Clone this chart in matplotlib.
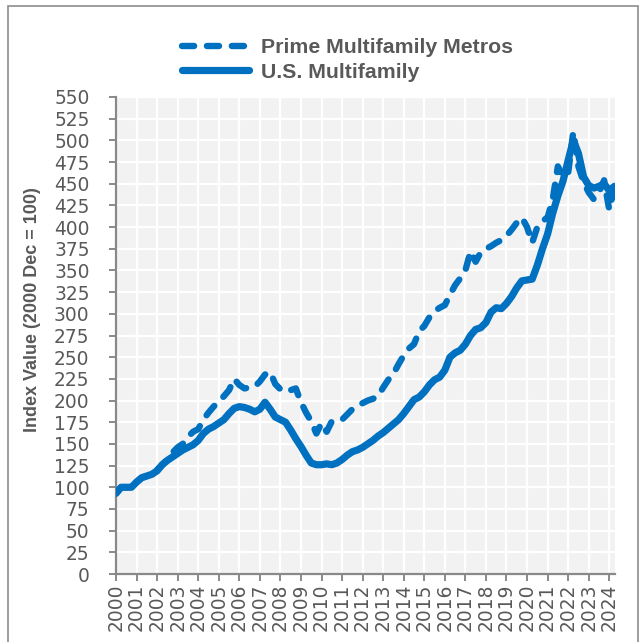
import numpy as np
import matplotlib
matplotlib.use("Agg")
import matplotlib.pyplot as plt
from matplotlib.patches import Rectangle

# ---- data (quarterly, 2000 Q1 .. 2024 Q2) ----
start_year = 2000.0
prime_metros = [
    93, 100, 100, 100, 106, 111, 113, 115,          # 2000-2001
    120, 126, 132, 140, 146, 150, 158, 164,         # 2002-2003
    167, 178, 186, 193, 199, 205, 212, 225,         # 2004-2005
    218, 214, 215, 216, 222, 230, 233, 219,         # 2006-2007
    213, 210, 212, 214, 198, 186, 176, 162,         # 2008-2009
    174, 164, 176, 177, 178, 184, 190, 194,         # 2010-2011
    197, 200, 202, 205, 215, 224, 231, 242,         # 2012-2013
    252, 260, 265, 280, 286, 296, 303, 307,         # 2014-2015
    310, 322, 333, 341, 350, 372, 360, 371,         # 2016-2017
    375, 378, 382, 385, 390, 397, 405, 411,         # 2018-2019
    400, 382, 400, 407, 411, 432, 470, 458,         # 2020-2021
    462, 510, 470, 452, 440, 432, 440, 454,         # 2022-2023
    420, 445,                                       # 2024
]
us_multifamily = [
    93, 100, 100, 100, 106, 111, 113, 115,
    119, 126, 131, 135, 139, 143, 146, 149,
    154, 162, 167, 170, 174, 178, 185, 191,
    193, 192, 190, 187, 190, 198, 190, 181,
    178, 175, 166, 156, 147, 137, 128, 126,
    126, 127, 126, 128, 132, 137, 141, 143,
    146, 150, 154, 159, 163, 168, 173, 178,
    185, 193, 201, 204, 210, 218, 224, 227,
    235, 250, 255, 258, 265, 275, 282, 284,
    290, 302, 307, 306, 312, 320, 330, 338,
    339, 340, 356, 375, 392, 416, 436, 453,
    477, 500, 485, 458, 448, 445, 447, 450,
    442, 447,
]
series_labels = ["Prime Multifamily Metros", "U.S. Multifamily"]
year_ticks = list(range(2000, 2025))
y_ticks = list(range(0, 551, 25))
y_label = "Index Value (2000 Dec = 100)"

x = start_year + np.arange(len(us_multifamily)) * 0.25

BLUE = "#0070C0"
GRAY_TXT = "#595959"
AXIS_GRAY = "#898989"

W = H = 642
fig = plt.figure(figsize=(W / 100, H / 100), dpi=100)
fig.patch.set_facecolor("white")

# outer frame
fig.patches.append(Rectangle((8 / W, -0.05), (638 - 8) / W, 1 - 6 / H + 0.05,
                             transform=fig.transFigure, fill=False,
                             edgecolor="#8c8c8c", linewidth=1.2))

left, right, top, bottom = 116, 615, 97, 574
ax = fig.add_axes([left / W, 1 - bottom / H, (right - left) / W, (bottom - top) / H])
ax.set_facecolor("#F2F2F2")

l1, = ax.plot(x, prime_metros, color=BLUE, lw=4.6, linestyle=(0, (1.9, 2.0)),
              dash_capstyle="round", solid_capstyle="round", label=series_labels[0], zorder=3)
l2, = ax.plot(x, us_multifamily, color=BLUE, lw=5.2, solid_capstyle="round",
              solid_joinstyle="round", label=series_labels[1], zorder=4)

ax.set_xlim(2000, 2024.28)
ax.set_ylim(0, 550)
ax.set_xticks(year_ticks)
ax.set_yticks(y_ticks)
ax.grid(True, color="white", linewidth=1.6, zorder=1)
ax.set_axisbelow(True)

for s in ["top", "right"]:
    ax.spines[s].set_visible(False)
for s in ["left", "bottom"]:
    ax.spines[s].set_color(AXIS_GRAY)
    ax.spines[s].set_linewidth(1.6)

tick_font = {"family": "DejaVu Sans", "size": 13.4}
ax.tick_params(axis="y", direction="out", length=5, width=1.4, color=AXIS_GRAY,
               pad=14, labelcolor=GRAY_TXT)
ax.tick_params(axis="x", direction="out", length=5, width=1.4, color=AXIS_GRAY,
               pad=2, labelcolor=GRAY_TXT)
ax.set_yticklabels([str(v) for v in y_ticks], fontdict=tick_font)
ax.set_xticklabels([str(v) for v in year_ticks], fontdict=tick_font, rotation=90)

fig.text(33 / W, 1 - 310 / H, y_label, rotation=90, ha="center", va="center",
         fontsize=13, fontweight="bold", color=GRAY_TXT, family="Liberation Sans")

leg = fig.legend(handles=[l1, l2], loc="upper left",
                 bbox_to_anchor=(182 / W, 1 - 38 / H), frameon=False,
                 prop={"family": "Liberation Sans", "weight": "bold", "size": 15.3},
                 handlelength=3.15, handletextpad=0.56, labelspacing=0.26,
                 borderpad=0, borderaxespad=0)
for t in leg.get_texts():
    t.set_color(GRAY_TXT)

fig.savefig("out.png", dpi=100)
